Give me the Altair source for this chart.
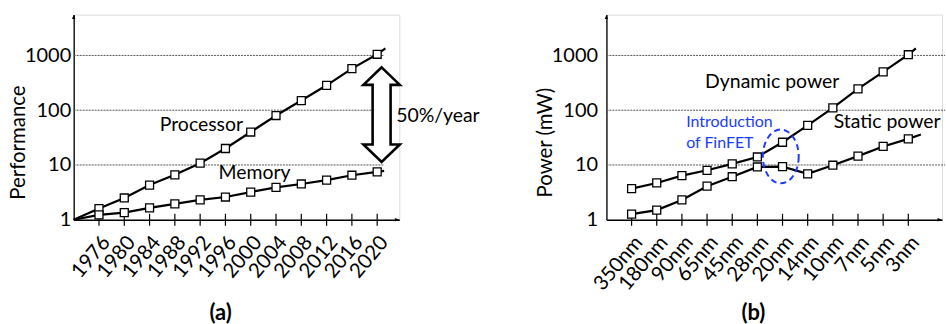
import altair as alt
import pandas as pd

# ---------------- data ----------------
years = [1976, 1980, 1984, 1988, 1992, 1996, 2000, 2004, 2008, 2012, 2016, 2020]
processor = [1.6, 2.5, 4.3, 6.6, 10.8, 20, 40, 80, 150, 285, 575, 1050]
memory = [1.23, 1.35, 1.65, 1.95, 2.3, 2.6, 3.2, 3.9, 4.5, 5.3, 6.5, 7.5]
proc_start, proc_end = (1972, 1), (2021.3, 1340)
mem_start, mem_end = (1972, 1), (2021.1, 7.8)

nodes = ["350nm", "180nm", "90nm", "65nm", "45nm", "28nm", "20nm", "14nm", "10nm", "7nm", "5nm", "3nm"]
node_pos = list(range(1, 13))
dynamic = [3.7, 4.7, 6.4, 8.0, 10.5, 14, 26, 53, 110, 245, 500, 1030]
static = [1.27, 1.5, 2.3, 4.1, 6.1, 9.2, 9.3, 6.9, 9.9, 14.5, 21.8, 30]
dyn_end = (12.3, 1350)
stat_end = (12.5, 36)

grid_vals = [10, 100, 1000]
y_ticks = [1, 10, 100, 1000]

FONT = "Lato"
H = 206
WL, WR = 327, 337
XL_DOM = [1972, 2023.5]
XR_DOM = [0, 13.34]
Y_DOM = [1, 5560]

yS = alt.Scale(type="log", domain=Y_DOM, nice=False)


def y_axis(title, title_x, pad):
    return alt.Axis(values=y_ticks, format="d", grid=False, ticks=False,
                    domainColor="black", domainWidth=1.3,
                    labelFont=FONT, labelFontSize=20, labelColor="black", labelPadding=pad,
                    title=title, titleFont=FONT, titleFontSize=20.5, titleFontWeight="normal",
                    titleColor="black", titleX=title_x, titleY=128, titleAngle=-90,
                    titleAlign="center", titleBaseline="middle")


def x_axis(title, values, label_expr=None):
    kw = dict(values=values, grid=False, ticks=False, domainColor="black", domainWidth=1.3,
              labelAngle=-50, labelFont=FONT, labelFontSize=20.5, labelColor="black",
              labelPadding=19, labelOffset=7, labelOverlap=False, labelFlush=False,
              title=title, titleFont=FONT, titleFontSize=22, titleFontWeight="bold",
              titleColor="black", titleX=147, titleY=93, titleAlign="center",
              titleBaseline="middle")
    if label_expr:
        kw["labelExpr"] = label_expr
    else:
        kw["format"] = "d"
    return alt.Axis(**kw)


UP_ARROW = "M0,0 L0.75,2 L-0.75,2 Z"
RIGHT_ARROW = "M0,0 L-2,0.75 L-2,-0.75 Z"
DOUBLE_ARROW = ("M0,-1 L0.385,-0.63 L0.19,-0.63 L0.19,0.63 L0.385,0.63 L0,1 "
                "L-0.385,0.63 L-0.19,0.63 L-0.19,-0.63 L-0.385,-0.63 Z")
ELLIPSE = ("M0.667,0 C0.667,0.5523 0.368,1 0,1 C-0.368,1 -0.667,0.5523 -0.667,0 "
           "C-0.667,-0.5523 -0.368,-1 0,-1 C0.368,-1 0.667,-0.5523 0.667,0 Z")


def panel(xdom, width, xaxis, yaxis, lines_df, pts_df, tick_vals, grid_len, texts_df, extra):
    xS = alt.Scale(domain=xdom, nice=False, zero=False)
    X = lambda: alt.X("x:Q", scale=xS, axis=xaxis)
    Y = lambda: alt.Y("y:Q", scale=yS, axis=yaxis)

    grid = alt.Chart(pd.DataFrame({"y": grid_vals})).mark_rule(
        color="#555555", strokeDash=[2, 1], strokeWidth=1
    ).encode(y=Y(), x=alt.value(0), x2=alt.value(grid_len))

    ticks = alt.Chart(pd.DataFrame({"x": tick_vals})).mark_rule(
        color="black", strokeWidth=1.2
    ).encode(x=X(), y=alt.value(H - 6), y2=alt.value(H + 6))

    lines = alt.Chart(lines_df).mark_line(color="black", strokeWidth=2.2).encode(
        x=X(), y=Y(), detail="s:N", order="o:Q")

    pts = alt.Chart(pts_df).mark_point(
        shape="square", size=64, filled=True, fill="white", stroke="black",
        strokeWidth=1.3, opacity=1
    ).encode(x=X(), y=Y())

    arrows = alt.Chart(pd.DataFrame({
        "x": [xdom[0], xdom[1]], "y": [Y_DOM[1], Y_DOM[0]], "shp": [UP_ARROW, RIGHT_ARROW]
    })).mark_point(filled=True, color="black", size=20.25, opacity=1, strokeWidth=0).encode(
        x=X(), y=Y(), shape=alt.Shape("shp:N", scale=None, legend=None))

    layers = [grid, ticks, lines, pts, arrows]
    for (txt_kw, tdf) in texts_df:
        layers.append(alt.Chart(tdf).mark_text(font=FONT, **txt_kw).encode(
            x=X(), y=Y(), text="t:N"))
    for ex in extra:
        layers.append(ex(X, Y))
    return alt.layer(*layers).properties(width=width, height=H)


def line_frame(series):
    rows = []
    for name, xs, ys in series:
        for i, (a, b) in enumerate(zip(xs, ys)):
            rows.append({"s": name, "o": i, "x": a, "y": b})
    return pd.DataFrame(rows)


# ---------------- left panel ----------------
left_lines = line_frame([
    ("Processor", [proc_start[0]] + years + [proc_end[0]], [proc_start[1]] + processor + [proc_end[1]]),
    ("Memory", [mem_start[0]] + years + [mem_end[0]], [mem_start[1]] + memory + [mem_end[1]]),
])
left_pts = pd.DataFrame({"x": years * 2, "y": processor + memory})
left_texts = [
    (dict(fontSize=19.5, align="center", baseline="middle", color="black"),
     pd.DataFrame({"x": [1992.2, 2000.6], "y": [53.4, 7.16], "t": ["Processor", "Memory"]})),
    (dict(fontSize=19.5, align="left", baseline="middle", color="black"),
     pd.DataFrame({"x": [2023.0], "y": [77.8], "t": ["50%/year"]})),
]


def double_arrow(X, Y):
    return alt.Chart(pd.DataFrame({"x": [2020.7], "y": [82.8]})).mark_point(
        shape=DOUBLE_ARROW, size=9025, filled=True, fill="white", stroke="black",
        strokeWidth=2.6, opacity=1, strokeJoin="miter"
    ).encode(x=X(), y=Y())


left = panel(XL_DOM, WL, x_axis("(a)", years), y_axis("Performance", -55.5, 3),
             left_lines, left_pts, years, 312, left_texts, [double_arrow])

# ---------------- right panel ----------------
right_lines = line_frame([
    ("Dynamic", node_pos + [dyn_end[0]], dynamic + [dyn_end[1]]),
    ("Static", node_pos + [stat_end[0]], static + [stat_end[1]]),
])
right_pts = pd.DataFrame({"x": node_pos * 2, "y": dynamic + static})
label_expr = "[" + ",".join("'%s'" % n for n in nodes) + "][datum.value - 1]"
right_texts = [
    (dict(fontSize=19.5, align="center", baseline="middle", color="black"),
     pd.DataFrame({"x": [6.59, 11.16], "y": [323, 60.5], "t": ["Dynamic power", "Static power"]})),
    (dict(fontSize=16, align="left", baseline="middle", color="#1a3cff"),
     pd.DataFrame({"x": [3.17, 3.17], "y": [60.5, 25.1], "t": ["Introduction", "of FinFET"]})),
]


def ellipse(X, Y):
    return alt.Chart(pd.DataFrame({"x": [6.93], "y": [14.3]})).mark_point(
        shape=ELLIPSE, size=2916, filled=False, stroke="#1a3cff", strokeWidth=2,
        strokeDash=[6, 4], opacity=1
    ).encode(x=X(), y=Y())


right = panel(XR_DOM, WR, x_axis("(b)", node_pos, label_expr), y_axis("Power (mW)", -61, 9),
              right_lines, right_pts, node_pos, 340, right_texts, [ellipse])

chart = alt.hconcat(left, right, spacing=208, bounds="flush").properties(
    padding={"left": 8, "top": 13, "right": 0, "bottom": 0}
).configure_view(stroke=None).configure(font=FONT, background="white")

chart.save("out.html", embed_options={"renderer": "svg", "actions": False})
